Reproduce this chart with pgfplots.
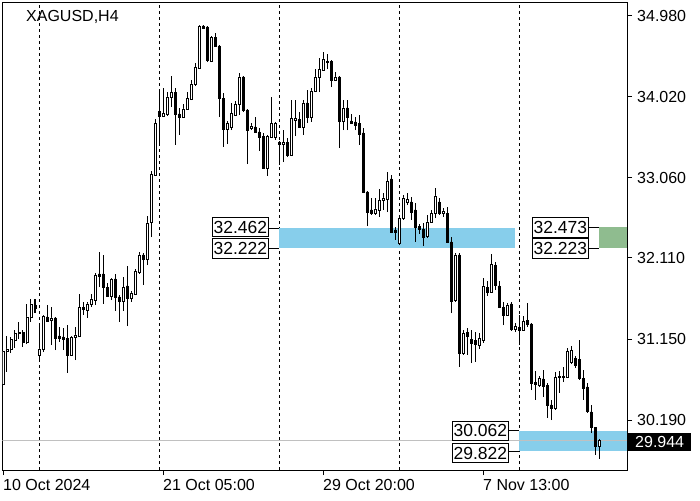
\documentclass[border=0pt]{standalone}
\usepackage{pgfplots}
\usepackage{pgfplotstable}
\pgfplotsset{compat=1.18}
\usepackage{fontspec}
\setmainfont{Liberation Sans}
\definecolor{bandblue}{RGB}{135,206,235}
\definecolor{bandgreen}{RGB}{143,188,143}
\definecolor{pricegray}{RGB}{192,192,192}
\tikzset{lbl/.style={draw=black, fill=white, line width=0.8pt, inner xsep=1.5pt,
    inner ysep=0pt, minimum height=19.5pt, font=\fontsize{17.5}{17.5}\selectfont}}

\pgfplotstableread{
i O H L C
0 30.616 31.019 30.273 31.007
1 31.007 31.185 30.759 31.031
2 31.031 31.173 30.983 31.149
3 31.137 31.256 31.043 31.220
4 31.220 31.351 31.149 31.232
5 31.232 31.256 31.055 31.114
6 31.114 31.564 31.090 31.410
7 31.410 31.623 31.351 31.564
8 31.552 31.623 31.457 31.516
9 30.960 31.303 30.889 31.031
10 31.031 31.434 30.995 31.422
11 31.410 31.552 31.351 31.362
12 31.374 31.528 31.078 31.398
13 31.398 31.410 31.019 31.161
14 31.185 31.291 31.114 31.161
15 31.173 31.280 31.019 31.149
16 31.161 31.315 30.747 30.960
17 30.960 31.185 30.948 31.173
18 31.173 31.291 30.900 31.197
19 31.185 31.682 31.173 31.528
20 31.528 31.588 31.434 31.505
21 31.493 31.588 31.398 31.564
22 31.564 31.682 31.528 31.623
23 31.611 31.931 31.552 31.907
24 31.919 32.179 31.765 31.895
25 31.919 32.144 31.564 31.765
26 31.765 31.812 31.647 31.659
27 31.659 31.872 31.611 31.860
28 31.860 31.919 31.481 31.647
29 31.647 31.670 31.351 31.588
30 31.588 31.883 31.481 31.765
31 31.777 32.014 31.303 31.635
32 31.635 31.718 31.588 31.694
33 31.682 31.978 31.670 31.954
34 31.943 32.179 31.919 32.144
35 32.144 32.167 31.789 32.097
36 32.097 32.606 32.025 32.523
37 32.535 33.139 32.357 33.103
38 33.091 33.754 33.080 33.707
39 33.849 34.074 33.470 33.790
40 33.790 34.121 33.778 33.825
41 33.814 34.074 33.790 34.015
42 34.015 34.264 33.896 34.074
43 34.074 34.121 33.447 33.814
44 33.814 33.885 33.565 33.778
45 33.778 33.932 33.766 33.873
46 33.873 34.074 33.861 34.003
47 33.991 34.216 33.979 34.169
48 34.169 34.417 34.145 34.370
49 34.358 34.867 34.346 34.856
50 34.856 34.867 34.820 34.832
51 34.844 34.856 34.429 34.453
52 34.441 34.737 34.429 34.725
53 34.725 34.773 34.607 34.619
54 34.619 34.631 33.778 34.003
55 34.003 34.062 33.423 33.636
56 33.636 33.731 33.458 33.707
57 33.660 33.944 33.624 33.825
58 33.802 33.968 33.790 33.932
59 33.932 34.299 33.802 34.252
60 34.252 34.264 33.837 33.861
61 33.861 33.873 33.221 33.624
62 33.648 33.707 33.624 33.672
63 33.660 33.778 33.589 33.601
64 33.601 33.648 33.376 33.541
65 33.553 33.589 33.162 33.174
66 33.174 33.565 33.080 33.553
67 33.541 34.015 33.529 33.707
68 33.541 33.719 33.506 33.707
69 33.482 33.494 33.210 33.458
70 33.458 33.624 33.245 33.482
71 33.482 33.529 33.304 33.328
72 33.328 33.979 33.316 33.766
73 33.743 33.979 33.553 33.766
74 33.754 33.837 33.648 33.660
75 33.660 33.979 33.565 33.944
76 33.944 34.098 33.707 33.778
77 33.778 34.121 33.719 34.086
78 34.086 34.346 34.074 34.252
79 34.252 34.477 34.074 34.346
80 34.335 34.548 34.323 34.465
81 34.429 34.524 34.346 34.441
82 34.441 34.453 34.133 34.216
83 34.216 34.311 34.204 34.252
84 34.252 34.264 33.411 33.731
85 33.731 33.979 33.624 33.885
86 33.885 33.979 33.624 33.778
87 33.731 33.814 33.695 33.707
88 33.719 33.778 33.624 33.683
89 33.707 33.802 33.447 33.577
90 33.589 33.648 32.878 32.890
91 32.890 32.902 32.487 32.653
92 32.677 32.819 32.618 32.641
93 32.641 32.819 32.618 32.689
94 32.677 32.926 32.594 32.795
95 32.795 32.878 32.677 32.819
96 32.807 33.127 32.653 33.020
97 33.044 33.091 32.404 32.416
98 32.440 32.475 32.322 32.416
99 32.286 32.618 32.262 32.582
100 32.582 32.855 32.559 32.819
101 32.772 32.878 32.736 32.807
102 32.772 32.831 32.559 32.653
103 32.677 32.760 32.298 32.475
104 32.487 32.511 32.393 32.452
105 32.452 32.523 32.250 32.357
106 32.369 32.618 32.345 32.535
107 32.535 32.677 32.523 32.641
108 32.641 32.937 32.582 32.843
109 32.772 32.819 32.618 32.641
110 32.641 32.700 32.594 32.665
111 32.641 32.712 32.286 32.298
112 32.298 32.357 31.457 31.588
113 31.611 32.167 31.588 32.144
114 32.144 32.167 30.818 30.983
115 30.983 31.256 30.960 31.220
116 31.232 31.280 30.960 31.185
117 31.149 31.256 30.865 31.102
118 31.137 31.232 30.877 31.090
119 31.078 31.220 31.031 31.161
120 31.137 31.872 31.102 31.777
121 31.765 31.836 31.659 31.706
122 31.706 32.156 31.694 32.037
123 32.025 32.061 31.730 31.789
124 31.777 31.836 31.516 31.528
125 31.528 31.588 31.315 31.434
126 31.434 31.576 31.422 31.552
127 31.564 31.588 31.244 31.268
128 31.268 31.339 31.232 31.303
129 31.291 31.434 31.078 31.256
130 31.256 31.422 31.244 31.362
131 31.374 31.576 31.291 31.327
132 31.327 31.339 30.545 30.628
133 30.640 30.770 30.427 30.616
134 30.604 30.711 30.581 30.687
135 30.676 30.782 30.462 30.593
136 30.604 30.628 30.214 30.368
137 30.368 30.427 30.190 30.332
138 30.332 30.759 30.309 30.699
139 30.699 30.770 30.510 30.711
140 30.711 30.818 30.640 30.699
141 30.699 31.043 30.687 31.007
142 30.877 31.066 30.853 31.019
143 30.924 30.948 30.806 30.841
144 30.912 31.137 30.664 30.687
145 30.687 30.782 30.427 30.569
146 30.581 30.628 30.273 30.297
147 30.285 30.368 30.036 30.096
148 30.096 30.107 29.776 29.882
149 29.871 29.965 29.729 29.944
}\candles

\begin{document}
\begin{tikzpicture}
\path[use as bounding box] (0pt,0pt) rectangle (700pt,500pt);
\pgfplotsset{
  common/.style={
    width=624.5pt, height=467.5pt, scale only axis,
    xmin=-0.125, xmax=156, ymin=29.598, ymax=35.134,
    at={(2.5pt,30pt)}, anchor=south west, clip mode=individual}
}
\begin{axis}[common,
  axis line style={black, line width=0.9pt},
  xtick={0,40,80,120},
  xticklabels={10 Oct 2024, 21 Oct 05:00, 29 Oct 20:00, 7 Nov 13:00},
  ytick={30.19,31.15,32.11,33.06,34.02,34.98},
  yticklabels={30.190,31.150,32.110,33.060,34.020,34.980},
  xtick pos=left, ytick pos=right, yticklabel pos=right,
  tick align=outside, major tick length=5pt,
  tick style={black, line width=0.8pt},
  ticklabel style={font=\fontsize{16}{16}\selectfont, inner sep=0pt},
  xticklabel style={anchor=north west, yshift=-4pt},
  yticklabel style={anchor=west, xshift=5pt},
  extra x ticks={9,39,69,99,129}, extra x tick labels={},
  extra x tick style={grid=major, major tick length=0pt,
    major grid style={black, line width=0.8pt, dash pattern=on 3pt off 3pt}},
]
\addplot[draw=none, fill=bandblue] coordinates {(69,32.222) (128,32.222) (128,32.462) (69,32.462)};
\addplot[draw=none, fill=bandblue] coordinates {(129,29.822) (156,29.822) (156,30.062) (129,30.062)};
\addplot[draw=none, fill=bandgreen] coordinates {(149,32.223) (156,32.223) (156,32.473) (149,32.473)};
\addplot[pricegray, line width=0.8pt] coordinates {(-0.125,29.944) (156,29.944)};
\addplot[draw=none, mark=none, error bars/.cd, y dir=plus, y explicit, error mark=none,
  error bar style={draw=black, line width=1pt}]
  table[x=i, y=L, y error expr=\thisrow{H}-\thisrow{L}] {\candles};
\addplot[black, line width=0.8pt] coordinates {(66.5,32.462) (69,32.462)};
\addplot[black, line width=0.8pt] coordinates {(66.5,32.222) (69,32.222)};
\addplot[black, line width=0.8pt] coordinates {(146.5,32.473) (149,32.473)};
\addplot[black, line width=0.8pt] coordinates {(146.5,32.223) (149,32.223)};
\addplot[black, line width=0.8pt] coordinates {(126.5,30.062) (129,30.062)};
\addplot[black, line width=0.8pt] coordinates {(126.5,29.822) (129,29.822)};
\node[lbl, anchor=east, yshift=1pt] at (axis cs:66.5,32.462) {32.462};
\node[lbl, anchor=east] at (axis cs:66.5,32.222) {32.222};
\node[lbl, anchor=east] at (axis cs:146.5,32.473) {32.473};
\node[lbl, anchor=east] at (axis cs:146.5,32.223) {32.223};
\node[lbl, anchor=east] at (axis cs:126.5,30.062) {30.062};
\node[lbl, anchor=east, yshift=-2pt] at (axis cs:126.5,29.822) {29.822};
\node[fill=black, text=white, anchor=west, xshift=1pt, yshift=-1pt, inner xsep=7pt,
  inner ysep=0pt, minimum height=18pt, font=\fontsize{16}{16}\selectfont]
  at (axis cs:156,29.944) {29.944};
\end{axis}
\begin{axis}[common, hide axis, ybar stacked, bar width=2pt]
\addplot[draw=none, fill=none] table[x=i, y expr={min(\thisrow{O},\thisrow{C})}] {\candles};
\addplot[fill=white, draw=black, line width=0.9pt] table[x=i, y expr={max(\thisrow{C}-\thisrow{O},0)}] {\candles};
\addplot[fill=black, draw=black, line width=0.9pt] table[x=i, y expr={max(\thisrow{O}-\thisrow{C},0)}] {\candles};
\end{axis}
\node[anchor=base west, inner sep=0pt, font=\fontsize{16}{16}\selectfont] at (26pt,478pt) {XAGUSD,H4};
\end{tikzpicture}
\end{document}
